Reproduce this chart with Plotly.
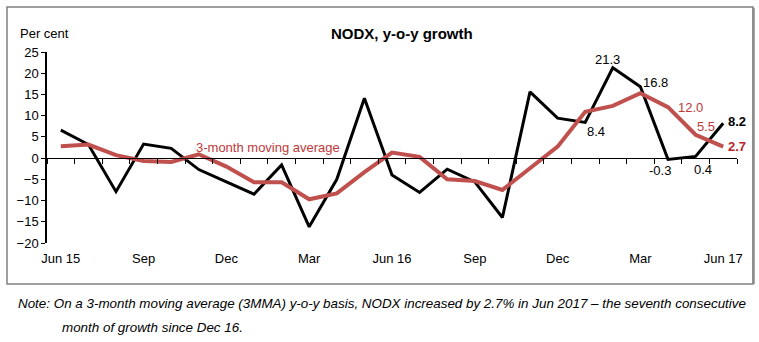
import plotly.graph_objects as go

# ---------------- data ----------------
months = ["Jun 15", "Jul 15", "Aug 15", "Sep 15", "Oct 15", "Nov 15", "Dec 15",
          "Jan 16", "Feb 16", "Mar 16", "Apr 16", "May 16", "Jun 16", "Jul 16",
          "Aug 16", "Sep 16", "Oct 16", "Nov 16", "Dec 16", "Jan 17", "Feb 17",
          "Mar 17", "Apr 17", "May 17", "Jun 17"]
nodx_yoy = [6.6, 3.2, -7.9, 3.3, 2.3, -2.7, -5.6, -8.5, -1.6, -16.2, -5.0, 14.1,
            -4.0, -8.1, -2.6, -5.6, -14.0, 15.6, 9.4, 8.4, 21.3, 16.8, -0.3, 0.4, 8.2]
mma3 = [2.8, 3.2, 0.7, -0.7, -0.9, 0.9, -2.0, -5.7, -5.7, -9.7, -8.3, -3.3,
        1.3, 0.3, -5.0, -5.4, -7.5, -2.4, 2.7, 10.9, 12.3, 15.3, 12.0, 5.5, 2.7]
tick_months = ["Jun 15", "Sep 15", "Dec 15", "Mar 16", "Jun 16", "Sep 16", "Dec 16", "Mar 17", "Jun 17"]
tick_labels = ["Jun 15", "Sep", "Dec", "Mar", "Jun 16", "Sep", "Dec", "Mar", "Jun 17"]
y_min, y_max, y_step = -20, 25, 5

# value labels: (text, x category position, y value)
black_labels = [("21.3", 19.8, 23.35), ("16.8", 21.55, 17.9), ("8.4", 19.4, 6.2),
                ("-0.3", 21.72, -2.97), ("0.4", 23.26, -2.57)]
red_labels = [("12.0", 22.8, 12.0), ("5.5", 23.39, 7.4)]

BLACK = "#000000"
RED = "#C0504D"
RED_TXT = "#C0393B"
FONT = "Arial, Liberation Sans, sans-serif"

W, H = 759, 342
ml, mr, mt, mb = 47, 22, 52, 99
pw, ph = W - ml - mr, H - mt - mb


def px_x(px):
    return (px - ml) / pw


def px_y(py):
    return (H - mb - py) / ph


fig = go.Figure()
fig.add_trace(go.Scatter(x=months, y=nodx_yoy, mode="lines",
                         line=dict(color=BLACK, width=3), showlegend=False,
                         hoverinfo="skip"))
fig.add_trace(go.Scatter(x=months, y=mma3, mode="lines",
                         line=dict(color=RED, width=4), showlegend=False,
                         hoverinfo="skip"))
# invisible trace for the zero-line axis with boundary ticks
fig.add_trace(go.Scatter(x=months, y=[None] * len(months), xaxis="x2", yaxis="y",
                         mode="lines", showlegend=False, hoverinfo="skip"))


def ann(x, y, text, size=13, color=BLACK, xref="x", yref="y", xanchor="center",
        xshift=0):
    return dict(x=x, y=y, xref=xref, yref=yref, text=text, showarrow=False,
                xanchor=xanchor, yanchor="middle", xshift=xshift,
                font=dict(family=FONT, size=size, color=color))


annotations = []
for t, xv, yv in black_labels:
    annotations.append(ann(xv, yv, t))
for t, xv, yv in red_labels:
    annotations.append(ann(xv, yv, t, color=RED_TXT))
annotations.append(ann(24.48, 8.6, "<b>8.2</b>", xshift=0.5))
annotations.append(ann(24.48, 2.85, "<b>2.7</b>", color="#B8262B", xshift=1))
annotations.append(ann(7.5, 2.6, "3-month moving average", color=RED_TXT))

annotations.append(ann(px_x(402), px_y(33), "<b>NODX, y-o-y growth</b>", size=15,
                       xref="paper", yref="paper"))
annotations.append(ann(px_x(18), px_y(33), "Per cent", xref="paper", yref="paper",
                       xanchor="left"))
annotations.append(ann(px_x(16), px_y(303),
                       "<i>Note: On a 3-month moving average (3MMA) y-o-y basis, NODX increased by 2.7% in Jun 2017 \u2013 the seventh consecutive</i>",
                       size=13.4, xref="paper", yref="paper", xanchor="left"))
annotations.append(ann(px_x(60), px_y(327), "<i>month of growth since Dec 16.</i>",
                       size=13.4, xref="paper", yref="paper", xanchor="left"))

shapes = [
    dict(type="rect", xref="paper", yref="paper", x0=px_x(7), x1=px_x(753),
         y0=px_y(284), y1=px_y(7), line=dict(color="#808080", width=1.5)),
    dict(type="line", xref="paper", yref="paper", x0=px_x(753.5), x1=px_x(753.5),
         y0=px_y(284), y1=px_y(8), line=dict(color="#8c8c8c", width=2.5)),
]

fig.update_layout(
    width=W, height=H,
    margin=dict(l=ml, r=mr, t=mt, b=mb),
    paper_bgcolor="white", plot_bgcolor="white",
    font=dict(family=FONT, size=13, color=BLACK),
    annotations=annotations, shapes=shapes,
    xaxis=dict(type="category", categoryorder="array", categoryarray=months,
               range=[-0.5, len(months) - 0.5], showline=False, showgrid=False,
               zeroline=False, ticks="", tickmode="array", tickvals=tick_months,
               ticktext=tick_labels, tickfont=dict(family=FONT, size=13, color=BLACK),
               ticklabelstandoff=6),
    xaxis2=dict(type="category", categoryorder="array", categoryarray=months,
                overlaying="x", anchor="free",
                position=(0 - y_min) / (y_max - y_min),
                range=[-0.5, len(months) - 0.5], showline=True, linecolor=BLACK,
                linewidth=1, ticks="outside", ticklen=5, tickcolor=BLACK,
                tickwidth=1, tickson="boundaries", showticklabels=False,
                showgrid=False, zeroline=False),
    yaxis=dict(range=[y_min, y_max], dtick=y_step, tick0=0, showline=True,
               linecolor=BLACK, linewidth=1.5, ticks="outside", ticklen=4,
               tickcolor=BLACK, showgrid=False, zeroline=False,
               tickfont=dict(family=FONT, size=13, color=BLACK)),
)

fig.write_html("out.html")
